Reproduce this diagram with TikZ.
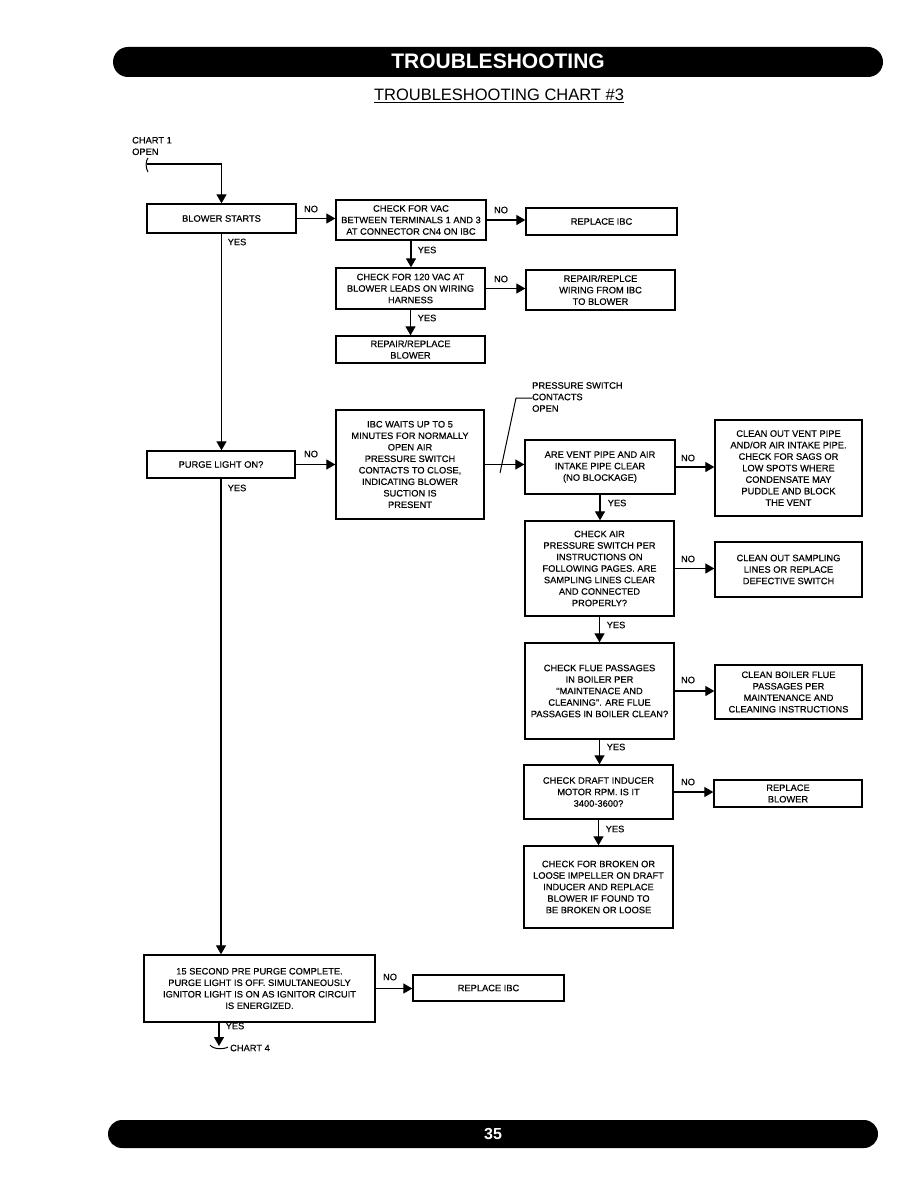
\documentclass[tikz,border=0pt]{standalone}
\usepackage{fontspec}
\setmainfont{Liberation Sans}
\newfontfamily\scanfont{Liberation Sans}[FakeBold=0.35]
\usetikzlibrary{arrows.meta}
\newcommand\boxfont{\scanfont\fontsize{9.3}{11.5}\selectfont}
\tikzset{
  box/.style={draw, line width=1.35pt, inner sep=0pt, align=center, font=\boxfont, fill=white},
  lbl/.style={font=\boxfont, inner sep=0pt},
  arr/.style={line width=1.3pt, -{Triangle[length=9pt,width=10pt]}},
  ln/.style={line width=1.3pt},
}
\begin{document}
\begin{tikzpicture}[x=1pt,y=-1pt]
\useasboundingbox (0,0) rectangle (918,1188);
% header and footer bars
\fill[black, rounded corners=15pt] (113,47) rectangle (883,77);
\node[font=\fontsize{21}{24}\selectfont\bfseries, text=white, inner sep=0pt] (title) at (498,61) {TROUBLESHOOTING};
\node[font=\fontsize{16.5}{19}\selectfont, inner sep=0pt] (sub) at (499,96) {\underline{TROUBLESHOOTING CHART \#3}};
\fill[black, rounded corners=14pt] (108,1120) rectangle (878,1148);
\node[font=\fontsize{16}{18}\selectfont\bfseries, text=white, inner sep=0pt] (page) at (493,1134) {35};

% boxes
\node[box, minimum width=149pt, minimum height=29pt] (bs) at (221.5,218.5) {BLOWER STARTS};
\node[box, minimum width=150pt, minimum height=40pt] (vac) at (411,220) {CHECK FOR VAC\\BETWEEN TERMINALS 1 AND 3\\AT CONNECTOR CN4 ON IBC};
\node[box, minimum width=151pt, minimum height=27pt] (ribc1) at (601.5,221.5) {REPLACE IBC};
\node[box, minimum width=149pt, minimum height=41pt] (v120) at (410.5,288.5) {CHECK FOR 120 VAC AT\\BLOWER LEADS ON WIRING\\HARNESS};
\node[box, minimum width=149pt, minimum height=40pt] (rwir) at (600.5,290) {REPAIR/REPLCE\\WIRING FROM IBC\\TO BLOWER};
\node[box, minimum width=149pt, minimum height=27pt] (rblow) at (410.5,349.5) {REPAIR/REPLACE\\BLOWER};
\node[box, minimum width=148pt, minimum height=27pt] (purge) at (221,464.5) {PURGE LIGHT ON?};
\node[box, minimum width=148pt, minimum height=109pt] (ibcw) at (410,464.5) {IBC WAITS UP TO 5\\MINUTES FOR NORMALLY\\OPEN AIR\\PRESSURE SWITCH\\CONTACTS TO CLOSE,\\INDICATING BLOWER\\SUCTION IS\\PRESENT};
\node[box, minimum width=150pt, minimum height=54pt] (vent) at (600,467) {ARE VENT PIPE AND AIR\\INTAKE PIPE CLEAR\\(NO BLOCKAGE)};
\node[box, minimum width=147pt, minimum height=96pt] (cvent) at (788.5,468) {CLEAN OUT VENT PIPE\\AND/OR AIR INTAKE PIPE.\\CHECK FOR SAGS OR\\LOW SPOTS WHERE\\CONDENSATE MAY\\PUDDLE AND BLOCK\\THE VENT};
\node[box, minimum width=149pt, minimum height=95pt] (air) at (599.5,568.5) {CHECK AIR\\PRESSURE SWITCH PER\\INSTRUCTIONS ON\\FOLLOWING PAGES. ARE\\SAMPLING LINES CLEAR\\AND CONNECTED\\PROPERLY?};
\node[box, minimum width=147pt, minimum height=55pt] (csamp) at (788.5,569.5) {CLEAN OUT SAMPLING\\LINES OR REPLACE\\DEFECTIVE SWITCH};
\node[box, minimum width=149pt, minimum height=96pt] (flue) at (599.5,691) {CHECK FLUE PASSAGES\\IN BOILER PER\\"MAINTENACE AND\\CLEANING". ARE FLUE\\PASSAGES IN BOILER CLEAN?};
\node[box, minimum width=147pt, minimum height=54pt] (cflue) at (788.5,692) {CLEAN BOILER FLUE\\PASSAGES PER\\MAINTENANCE AND\\CLEANING INSTRUCTIONS};
\node[box, minimum width=149pt, minimum height=54pt] (draft) at (598.5,792) {CHECK DRAFT INDUCER\\MOTOR RPM. IS IT\\3400-3600?};
\node[box, minimum width=148pt, minimum height=27pt] (rblow2) at (788,793.5) {REPLACE\\BLOWER};
\node[box, minimum width=149pt, minimum height=82pt] (broken) at (598.5,887) {CHECK FOR BROKEN OR\\LOOSE IMPELLER ON DRAFT\\INDUCER AND REPLACE\\BLOWER IF FOUND TO\\BE BROKEN OR LOOSE};
\node[box, minimum width=231pt, minimum height=67pt] (bot) at (259.5,988.5) {15 SECOND PRE PURGE COMPLETE.\\PURGE LIGHT IS OFF. SIMULTANEOUSLY\\IGNITOR LIGHT IS ON AS IGNITOR CIRCUIT\\IS ENERGIZED.};
\node[box, minimum width=151pt, minimum height=26pt] (ribc2) at (488.5,988) {REPLACE IBC};

% start / end markers
\node[lbl, align=left, anchor=west] (c1txt) at (132,146) {CHART 1\\OPEN};
\coordinate (c1) at (147,164);
\draw[line width=1pt] (148,158) .. controls (145.5,161) and (145.5,168) .. (148,172);
\draw[arr] (c1) -| (bs.north);
\coordinate (c4) at (219,1046);
\draw[arr] (bot.south -| c4) -- (c4);
\draw[line width=1pt] (210,1045) .. controls (213,1049.5) and (224,1049.5) .. (228,1047);
\node[lbl, anchor=west] (c4txt) at (230,1048) {CHART 4};

% pressure switch note
\node[lbl, align=left, anchor=west] (psw) at (532,397) {PRESSURE SWITCH\\CONTACTS\\OPEN};
\coordinate (pswA) at (500,473);
\coordinate (pswB) at (516,398);
\draw[line width=1pt] (pswA) -- (pswB) -- (psw.west |- pswB);

% connectors
\draw[arr] (bs.east) -- (bs.east -| vac.west);
\draw[arr] (vac.east) -- (vac.east -| ribc1.west);
\draw[arr] (vac.south) -- (vac.south |- v120.north);
\draw[arr] (v120.east) -- (v120.east -| rwir.west);
\draw[arr] (v120.south) -- (v120.south |- rblow.north);
\draw[arr] (bs.south) -- (bs.south |- purge.north);
\draw[arr] (purge.east) -- (purge.east -| ibcw.west);
\draw[arr] (purge.south) -- (purge.south |- bot.north);
\draw[arr] (ibcw.east) -- (ibcw.east -| vent.west);
\draw[arr] (vent.east) -- (vent.east -| cvent.west);
\draw[arr] (vent.south) -- (vent.south |- air.north);
\draw[arr] (air.east) -- (air.east -| csamp.west);
\draw[arr] (air.south) -- (air.south |- flue.north);
\draw[arr] (flue.east) -- (flue.east -| cflue.west);
\draw[arr] (flue.south) -- (flue.south |- draft.north);
\draw[arr] (draft.east) -- (draft.east -| rblow2.west);
\draw[arr] (draft.south) -- (draft.south |- broken.north);
\draw[arr] (bot.east) -- (bot.east -| ribc2.west);

% labels
\node[lbl] (n1) at (311,209) {NO};
\node[lbl] (y1) at (237,242) {YES};
\node[lbl] (n2) at (501,210) {NO};
\node[lbl] (y2) at (427,250) {YES};
\node[lbl] (n3) at (501,279) {NO};
\node[lbl] (y3) at (427,318) {YES};
\node[lbl] (n4) at (311,454) {NO};
\node[lbl] (y4) at (237,488) {YES};
\node[lbl] (n5) at (688,458) {NO};
\node[lbl] (y5) at (617,503) {YES};
\node[lbl] (n6) at (688,559) {NO};
\node[lbl] (y6) at (616,625) {YES};
\node[lbl] (n7) at (688,680) {NO};
\node[lbl] (y7) at (616,747) {YES};
\node[lbl] (n8) at (688,782) {NO};
\node[lbl] (y8) at (615,829) {YES};
\node[lbl] (n9) at (390,977) {NO};
\node[lbl] (y9) at (235,1026) {YES};
\end{tikzpicture}
\end{document}
